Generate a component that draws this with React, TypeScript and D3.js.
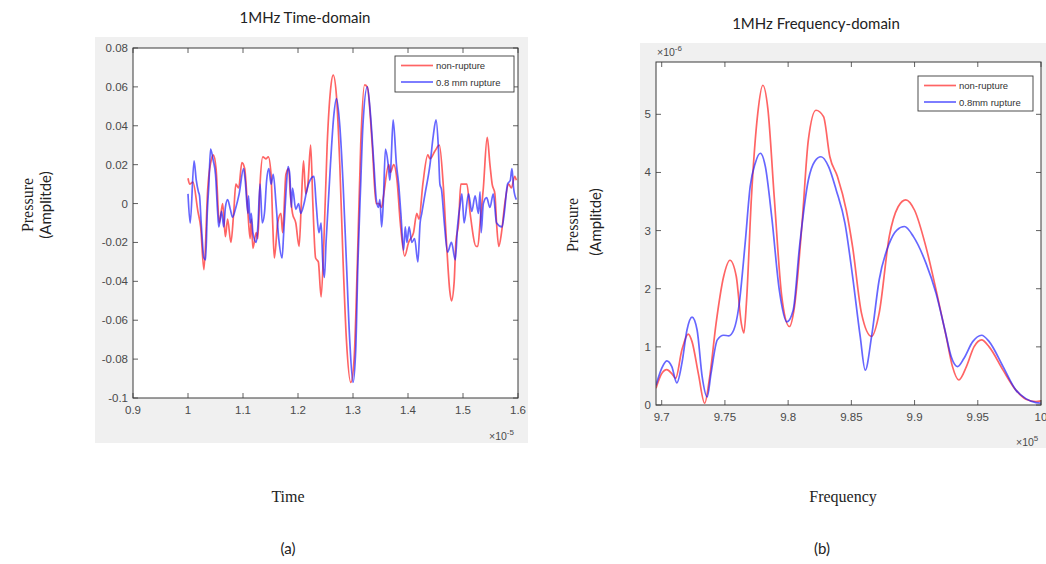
import React from "react";
import * as d3 from "d3";

// ---------- Time domain data (time in ×1e-5 s, amplitude) ----------
const timeRedT = [1.000,1.003,1.009,1.018,1.023,1.029,1.036,1.044,1.046,1.051,1.057,1.063,1.068,1.072,1.078,1.083,1.087,1.092,1.098,1.103,1.109,1.113,1.115,1.118,1.124,1.127,1.131,1.136,1.142,1.146,1.151,1.154,1.157,1.163,1.169,1.172,1.178,1.183,1.186,1.190,1.196,1.202,1.206,1.210,1.214,1.218,1.223,1.227,1.232,1.237,1.242,1.247,1.253,1.259,1.264,1.270,1.276,1.282,1.288,1.296,1.302,1.308,1.314,1.321,1.326,1.335,1.342,1.347,1.352,1.355,1.365,1.368,1.374,1.380,1.386,1.394,1.401,1.410,1.416,1.420,1.427,1.436,1.440,1.449,1.457,1.464,1.470,1.476,1.479,1.484,1.487,1.492,1.496,1.507,1.513,1.524,1.527,1.531,1.537,1.544,1.549,1.553,1.558,1.561,1.565,1.570,1.576,1.583,1.588,1.594,1.597];
const timeRedV = [0.013,0.010,0.011,-0.004,-0.012,-0.034,0.008,0.024,0.025,0.018,-0.010,0.000,-0.017,-0.008,-0.020,-0.005,0.010,0.008,0.021,0.018,-0.005,-0.018,-0.008,-0.023,-0.015,-0.018,0.010,0.024,0.023,0.024,0.015,-0.010,-0.028,-0.010,-0.005,-0.015,0.015,0.018,0.005,-0.005,-0.010,-0.022,0.000,0.022,0.005,0.010,0.030,0.000,-0.028,-0.030,-0.048,-0.020,0.030,0.058,0.066,0.055,0.020,-0.030,-0.070,-0.092,-0.080,-0.030,0.030,0.061,0.060,0.030,0.000,0.000,-0.002,0.003,0.020,0.016,0.020,0.012,-0.010,-0.027,-0.020,-0.015,-0.005,-0.008,0.010,0.025,0.023,0.027,0.030,0.010,-0.020,-0.045,-0.050,-0.040,-0.020,-0.010,0.010,0.010,-0.005,-0.022,-0.022,-0.010,0.008,0.034,0.020,0.010,0.005,-0.010,-0.022,-0.015,0.000,0.010,0.008,0.014,0.012];

const timeBlueT = [1.000,1.004,1.011,1.015,1.019,1.021,1.024,1.029,1.032,1.035,1.038,1.041,1.046,1.050,1.054,1.056,1.061,1.065,1.068,1.072,1.077,1.081,1.087,1.093,1.101,1.104,1.109,1.110,1.113,1.115,1.118,1.124,1.127,1.131,1.135,1.139,1.143,1.147,1.151,1.155,1.160,1.165,1.171,1.174,1.178,1.182,1.185,1.188,1.190,1.196,1.201,1.205,1.211,1.217,1.222,1.229,1.233,1.238,1.242,1.245,1.248,1.251,1.259,1.265,1.270,1.276,1.282,1.288,1.294,1.300,1.305,1.309,1.314,1.318,1.326,1.332,1.338,1.342,1.346,1.349,1.352,1.355,1.359,1.364,1.367,1.369,1.373,1.379,1.383,1.387,1.392,1.395,1.398,1.402,1.407,1.412,1.418,1.422,1.425,1.431,1.440,1.446,1.451,1.455,1.458,1.461,1.466,1.472,1.479,1.486,1.490,1.495,1.498,1.502,1.510,1.516,1.522,1.528,1.531,1.533,1.537,1.543,1.549,1.555,1.561,1.571,1.575,1.581,1.586,1.589,1.592,1.597];
const timeBlueV = [0.005,-0.010,0.022,0.012,0.006,0.004,-0.010,-0.028,-0.029,-0.005,0.010,0.028,0.022,0.015,-0.005,-0.012,-0.004,-0.012,-0.002,0.002,-0.003,-0.007,-0.002,0.005,0.018,0.012,-0.005,0.004,-0.010,-0.005,-0.015,-0.020,-0.012,0.010,-0.010,-0.005,0.012,0.018,0.010,0.015,0.000,-0.018,-0.028,-0.015,0.005,0.019,0.015,-0.002,0.008,-0.003,0.000,-0.005,0.000,0.008,0.012,0.014,0.000,-0.015,-0.010,-0.030,-0.038,-0.020,0.020,0.045,0.054,0.040,0.010,-0.030,-0.070,-0.092,-0.075,-0.030,0.010,0.040,0.060,0.045,0.020,0.003,-0.002,0.002,-0.012,0.000,0.028,0.020,0.012,0.020,0.043,0.020,0.010,-0.005,-0.024,-0.012,-0.020,-0.012,-0.020,-0.018,-0.030,-0.010,-0.005,0.005,0.020,0.035,0.043,0.030,0.010,0.007,-0.010,-0.025,-0.020,-0.029,-0.012,0.000,0.005,-0.010,0.005,-0.004,0.004,-0.005,0.006,-0.015,0.000,0.003,-0.002,0.005,-0.010,-0.012,-0.005,0.010,0.012,0.018,0.008,0.002];

// ---------- Frequency domain data (freq in ×1e5 Hz, amplitude ×1e-6) ----------
const freqRedF = [9.6955,9.700,9.704,9.708,9.711,9.716,9.721,9.724,9.729,9.734,9.738,9.743,9.749,9.754,9.759,9.763,9.765,9.767,9.771,9.776,9.780,9.784,9.789,9.795,9.801,9.805,9.811,9.816,9.822,9.828,9.833,9.839,9.846,9.851,9.858,9.866,9.872,9.880,9.887,9.893,9.900,9.909,9.917,9.925,9.930,9.935,9.941,9.947,9.953,9.959,9.970,9.980,9.988,9.996,10.0];
const freqRedV = [0.29,0.54,0.61,0.54,0.46,0.95,1.22,1.09,0.54,0.03,0.49,1.40,2.21,2.49,2.21,1.40,1.24,1.75,3.58,5.02,5.50,5.09,3.58,1.86,1.35,1.69,3.12,4.56,5.07,4.96,4.27,3.93,3.35,2.72,1.58,1.18,1.58,2.90,3.41,3.53,3.35,2.72,1.98,1.18,0.66,0.43,0.66,1.00,1.12,1.00,0.60,0.26,0.10,0.06,0.07];

const freqBlueF = [9.6955,9.700,9.704,9.708,9.712,9.716,9.720,9.724,9.728,9.732,9.736,9.739,9.744,9.749,9.753,9.757,9.761,9.766,9.770,9.774,9.778,9.782,9.787,9.793,9.799,9.804,9.809,9.816,9.821,9.826,9.832,9.838,9.845,9.851,9.857,9.861,9.866,9.872,9.880,9.886,9.892,9.899,9.909,9.917,9.924,9.929,9.934,9.939,9.946,9.953,9.959,9.970,9.980,9.988,9.996,10.0];
const freqBlueV = [0.34,0.63,0.76,0.66,0.38,0.72,1.29,1.51,1.29,0.49,0.14,0.54,1.12,1.20,1.19,1.29,1.69,2.78,3.76,4.16,4.33,4.10,3.24,1.98,1.43,1.63,2.72,3.87,4.19,4.27,4.10,3.70,3.12,2.21,1.18,0.60,1.18,2.15,2.78,3.01,3.07,2.90,2.44,1.92,1.29,0.83,0.66,0.80,1.09,1.20,1.09,0.66,0.26,0.11,0.04,0.03];

// ---------- Ticks ----------
const timeXTicks = [0.9, 1.0, 1.1, 1.2, 1.3, 1.4, 1.5, 1.6];
const timeXTickLabels = ["0.9", "1", "1.1", "1.2", "1.3", "1.4", "1.5", "1.6"];
const timeYTicks = [0.08, 0.06, 0.04, 0.02, 0, -0.02, -0.04, -0.06, -0.08, -0.1];
const timeYTickLabels = ["0.08", "0.06", "0.04", "0.02", "0", "-0.02", "-0.04", "-0.06", "-0.08", "-0.1"];
const freqXTicks = [9.7, 9.75, 9.8, 9.85, 9.9, 9.95, 10];
const freqXTickLabels = ["9.7", "9.75", "9.8", "9.85", "9.9", "9.95", "10"];
const freqYTicks = [0, 1, 2, 3, 4, 5];
const freqYTickLabels = ["0", "1", "2", "3", "4", "5"];

const seriesNames = ["non-rupture", "0.8 mm rupture"];
const seriesNamesFreq = ["non-rupture", "0.8mm rupture"];

const RED = "rgba(255,40,40,0.72)";
const BLUE = "rgba(30,30,255,0.68)";
const AXIS = "#3a3a3a";
const TICKTXT = "#4a4a4a";
const TICKFONT = "'Liberation Sans', Arial, sans-serif";
const SANS = "Lato, 'Open Sans', sans-serif";
const SERIF = "'Liberation Serif', 'DejaVu Serif', serif";

type PanelProps = {
  panel: { x: number; y: number; w: number; h: number };
  plot: { l: number; t: number; r: number; b: number };
  xDomain: [number, number];
  yDomain: [number, number];
  xTicks: number[];
  xLabels: string[];
  yTicks: number[];
  yLabels: string[];
  series: { xs: number[]; ys: number[]; color: string }[];
  legend: { x: number; y: number; w: number; h: number; names: string[] };
  curve: any;
};

function Panel(p: PanelProps) {
  const x = d3.scaleLinear().domain(p.xDomain).range([p.plot.l, p.plot.r]);
  const y = d3.scaleLinear().domain(p.yDomain).range([p.plot.b, p.plot.t]);
  const line = d3
    .line<[number, number]>()
    .x((d) => x(d[0]))
    .y((d) => y(d[1]))
    .curve(p.curve);
  const tl = 5;
  const clipId = "clip" + Math.round(p.plot.l);
  return (
    <g>
      <rect x={p.panel.x} y={p.panel.y} width={p.panel.w} height={p.panel.h} fill="#f0f0f0" />
      <rect x={p.plot.l} y={p.plot.t} width={p.plot.r - p.plot.l} height={p.plot.b - p.plot.t} fill="#fff" />
      <defs>
        <clipPath id={clipId}>
          <rect x={p.plot.l} y={p.plot.t} width={p.plot.r - p.plot.l} height={p.plot.b - p.plot.t} />
        </clipPath>
      </defs>
      <g clipPath={`url(#${clipId})`}>
        {p.series.map((s, i) => (
          <path
            key={i}
            d={line(s.xs.map((v, j) => [v, s.ys[j]] as [number, number])) || ""}
            fill="none"
            stroke={s.color}
            strokeWidth={1.7}
            strokeLinejoin="round"
          />
        ))}
      </g>
      {/* ticks */}
      {p.xTicks.map((t, i) => (
        <g key={"x" + i}>
          <line x1={x(t)} x2={x(t)} y1={p.plot.b} y2={p.plot.b - tl} stroke={AXIS} strokeWidth={0.8} />
          <line x1={x(t)} x2={x(t)} y1={p.plot.t} y2={p.plot.t + tl} stroke={AXIS} strokeWidth={0.8} />
          <text x={x(t)} y={p.plot.b + 16} textAnchor="middle" fontSize={11.5} fill={TICKTXT} fontFamily={TICKFONT}>
            {p.xLabels[i]}
          </text>
        </g>
      ))}
      {p.yTicks.map((t, i) => (
        <g key={"y" + i}>
          <line x1={p.plot.l} x2={p.plot.l + tl} y1={y(t)} y2={y(t)} stroke={AXIS} strokeWidth={0.8} />
          <line x1={p.plot.r} x2={p.plot.r - tl} y1={y(t)} y2={y(t)} stroke={AXIS} strokeWidth={0.8} />
          <text x={p.plot.l - 5} y={y(t) + 4} textAnchor="end" fontSize={11.5} fill={TICKTXT} fontFamily={TICKFONT}>
            {p.yLabels[i]}
          </text>
        </g>
      ))}
      <rect
        x={p.plot.l}
        y={p.plot.t}
        width={p.plot.r - p.plot.l}
        height={p.plot.b - p.plot.t}
        fill="none"
        stroke={AXIS}
        strokeWidth={1}
      />
      {/* legend */}
      <rect x={p.legend.x} y={p.legend.y} width={p.legend.w} height={p.legend.h} fill="#fff" stroke={AXIS} strokeWidth={0.9} />
      {p.legend.names.map((n, i) => {
        const ly = p.legend.y + 9.5 + i * 16.5;
        return (
          <g key={n}>
            <line
              x1={p.legend.x + 6}
              x2={p.legend.x + 38}
              y1={ly}
              y2={ly}
              stroke={p.series[i].color}
              strokeWidth={1.7}
            />
            <text x={p.legend.x + 41} y={ly + 3.5} fontSize={9.5} fill="#333" fontFamily={TICKFONT}>
              {n}
            </text>
          </g>
        );
      })}
    </g>
  );
}

export default function App() {
  return (
    <svg width={1046} height={564} style={{ position: "absolute", left: 0, top: 0, background: "#fff" }}>
      <rect width={1046} height={564} fill="#fff" />
      {/* Titles */}
      <text x={305} y={23} textAnchor="middle" fontSize={15} fill="#222" fontFamily={SANS}>
        1MHz Time-domain
      </text>
      <text x={816} y={29} textAnchor="middle" fontSize={15} fill="#222" fontFamily={SANS}>
        1MHz Frequency-domain
      </text>

      <Panel
        panel={{ x: 95, y: 37, w: 433, h: 406 }}
        plot={{ l: 133, t: 48, r: 518, b: 398 }}
        xDomain={[0.9, 1.6]}
        yDomain={[-0.1, 0.08]}
        xTicks={timeXTicks}
        xLabels={timeXTickLabels}
        yTicks={timeYTicks}
        yLabels={timeYTickLabels}
        series={[
          { xs: timeRedT, ys: timeRedV, color: RED },
          { xs: timeBlueT, ys: timeBlueV, color: BLUE },
        ]}
        legend={{ x: 395, y: 56, w: 119, h: 36, names: seriesNames }}
        curve={d3.curveMonotoneX}
      />
      <text x={489} y={440} fontSize={10.5} fill={TICKTXT} fontFamily={TICKFONT}>
        ×10
        <tspan dy={-5} fontSize={8}>-5</tspan>
      </text>

      <Panel
        panel={{ x: 640, y: 43, w: 406, h: 405 }}
        plot={{ l: 656, t: 62, r: 1041, b: 405 }}
        xDomain={[9.6955, 10]}
        yDomain={[0, 5.9]}
        xTicks={freqXTicks}
        xLabels={freqXTickLabels}
        yTicks={freqYTicks}
        yLabels={freqYTickLabels}
        series={[
          { xs: freqRedF, ys: freqRedV, color: RED },
          { xs: freqBlueF, ys: freqBlueV, color: BLUE },
        ]}
        legend={{ x: 918, y: 76, w: 115, h: 35, names: seriesNamesFreq }}
        curve={d3.curveMonotoneX}
      />
      <text x={657} y={56} fontSize={10.5} fill={TICKTXT} fontFamily={TICKFONT}>
        ×10
        <tspan dy={-5} fontSize={8}>-6</tspan>
      </text>
      <text x={1016} y={446} fontSize={10.5} fill={TICKTXT} fontFamily={TICKFONT}>
        ×10
        <tspan dy={-5} fontSize={8}>5</tspan>
      </text>

      {/* Y axis labels */}
      <text transform="translate(33,205) rotate(-90)" textAnchor="middle" fontSize={16} fill="#222" fontFamily={SERIF}>
        Pressure
      </text>
      <text transform="translate(51,205) rotate(-90)" textAnchor="middle" fontSize={15} fill="#222" fontFamily={SANS}>
        (Amplitde)
      </text>
      <text transform="translate(578,225) rotate(-90)" textAnchor="middle" fontSize={16} fill="#222" fontFamily={SERIF}>
        Pressure
      </text>
      <text transform="translate(601,222) rotate(-90)" textAnchor="middle" fontSize={15} fill="#222" fontFamily={SANS}>
        (Amplitde)
      </text>

      {/* X axis labels */}
      <text x={288} y={502} textAnchor="middle" fontSize={16} fill="#222" fontFamily={SERIF}>
        Time
      </text>
      <text x={843} y={502} textAnchor="middle" fontSize={16} fill="#222" fontFamily={SERIF}>
        Frequency
      </text>
      <text x={288} y={554} textAnchor="middle" fontSize={15} fill="#222" fontFamily={SANS}>
        (a)
      </text>
      <text x={822} y={554} textAnchor="middle" fontSize={15} fill="#222" fontFamily={SANS}>
        (b)
      </text>
    </svg>
  );
}
